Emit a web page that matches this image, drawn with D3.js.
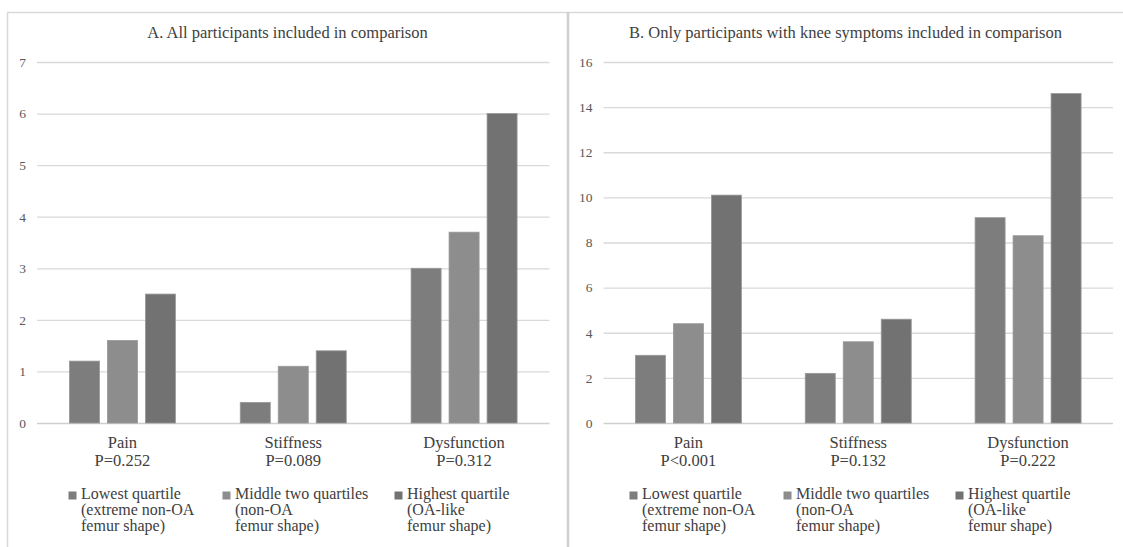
<!DOCTYPE html>
<html>
<head>
<meta charset="utf-8">
<script src="https://cdn.jsdelivr.net/npm/d3@7"></script>
</head>
<body style="margin:0; background:#fff">
<svg id="chart" width="1123" height="547" style="display:block"></svg>
<script>
// ---- Data ----
const categories = ["Pain", "Stiffness", "Dysfunction"];
const series = ["Lowest quartile", "Middle two quartiles", "Highest quartile"];
const legendLines = [
  ["Lowest quartile", "(extreme non-OA", "femur shape)"],
  ["Middle two quartiles", "(non-OA", "femur shape)"],
  ["Highest quartile", "(OA-like", "femur shape)"]
];
const seriesColors = ["#7d7d7d", "#8d8d8d", "#727272"];

const titleA = "A. All participants included in comparison";
const pLabelsA = ["P=0.252", "P=0.089", "P=0.312"];
const lowestA  = [1.2, 0.4, 3.0];
const middleA  = [1.6, 1.1, 3.7];
const highestA = [2.5, 1.4, 6.0];
const ticksA = [0, 1, 2, 3, 4, 5, 6, 7];

const titleB = "B. Only participants with knee symptoms included in comparison";
const pLabelsB = ["P<0.001", "P=0.132", "P=0.222"];
const lowestB  = [3.0, 2.2, 9.1];
const middleB  = [4.4, 3.6, 8.3];
const highestB = [10.1, 4.6, 14.6];
const ticksB = [0, 2, 4, 6, 8, 10, 12, 14, 16];

const FONT = '"Liberation Serif"';
const svg = d3.select("#chart");

// panel frame lines
svg.append("line").attr("x1", 7).attr("x2", 1123).attr("y1", 12.5).attr("y2", 12.5)
  .attr("stroke", "#d9d9d9").attr("stroke-width", 1.5);
svg.append("line").attr("x1", 7.5).attr("x2", 7.5).attr("y1", 12).attr("y2", 547)
  .attr("stroke", "#d9d9d9").attr("stroke-width", 1.5);
svg.append("line").attr("x1", 568).attr("x2", 568).attr("y1", 12).attr("y2", 547)
  .attr("stroke", "#cfcfcf").attr("stroke-width", 2.5);

function drawPanel(cfg) {
  const g = svg.append("g");
  const y = d3.scaleLinear().domain([0, cfg.ticks[cfg.ticks.length - 1]]).range([423, 62]);
  const x0 = d3.scaleBand().domain(categories).range([cfg.plotLeft, cfg.plotRight]).padding(0);
  const bw = x0.bandwidth();
  const pad = (bw - 106) / 2;
  const x1 = d3.scaleBand().domain(series).range([pad, bw - pad]).paddingInner(0.21).paddingOuter(0);

  // title
  g.append("text").attr("x", (cfg.panelLeft + cfg.panelRight) / 2).attr("y", 38)
    .attr("text-anchor", "middle").style("font-family", FONT).style("font-size", "16.5px").attr("fill", "#404040")
    .text(cfg.title);

  // grid + tick labels via axis
  const axis = d3.axisLeft(y).tickValues(cfg.ticks).tickFormat(d3.format("d"))
    .tickSize(-(cfg.plotRight - cfg.plotLeft)).tickPadding(11);
  const ag = g.append("g").attr("transform", `translate(${cfg.plotLeft},0)`).call(axis);
  ag.attr("font-family", null);
  ag.select(".domain").remove();
  ag.selectAll(".tick line").attr("stroke", d => d === 0 ? "#cfcfcf" : "#d9d9d9").attr("stroke-width", 1.3);
  ag.selectAll(".tick text").style("font-family", FONT).style("font-size", "13.5px")
    .attr("fill", "#595959");

  // bars
  const vals = [cfg.lowest, cfg.middle, cfg.highest];
  const data = [];
  categories.forEach((c, ci) => series.forEach((s, si) => data.push({c, s, si, v: vals[si][ci]})));
  g.selectAll("rect.bar").data(data).enter().append("rect").attr("class", "bar")
    .attr("x", d => x0(d.c) + x1(d.s))
    .attr("width", x1.bandwidth())
    .attr("y", d => y(d.v))
    .attr("height", d => y(0) - y(d.v))
    .attr("fill", d => seriesColors[d.si])
    .attr("stroke", "#989898").attr("stroke-width", 0.8);

  // category labels
  categories.forEach((c, ci) => {
    const cx = x0(c) + bw / 2;
    const t = g.append("text").attr("text-anchor", "middle").style("font-family", FONT)
      .style("font-size", "16.5px").attr("fill", "#404040");
    t.append("tspan").attr("x", cx).attr("y", 448).text(c);
    t.append("tspan").attr("x", cx).attr("y", 465.5).text(cfg.pLabels[ci]);
  });

  // legend
  const legX = [74, 228, 400];
  series.forEach((s, si) => {
    const lx = cfg.panelLeft + legX[si];
    g.append("rect").attr("x", lx - 12.5).attr("y", 491.5).attr("width", 8).attr("height", 8)
      .attr("fill", seriesColors[si]);
    const t = g.append("text").style("font-family", FONT).style("font-size", "16px").attr("fill", "#404040");
    legendLines[si].forEach((ln, li) => {
      t.append("tspan").attr("x", lx).attr("y", 499 + li * 16).text(ln);
    });
  });
}

drawPanel({
  title: titleA, pLabels: pLabelsA, lowest: lowestA, middle: middleA, highest: highestA, ticks: ticksA,
  panelLeft: 7, panelRight: 568, plotLeft: 37, plotRight: 549.5
});
drawPanel({
  title: titleB, pLabels: pLabelsB, lowest: lowestB, middle: middleB, highest: highestB, ticks: ticksB,
  panelLeft: 568, panelRight: 1123, plotLeft: 603.5, plotRight: 1113
});
</script>
</body>
</html>
